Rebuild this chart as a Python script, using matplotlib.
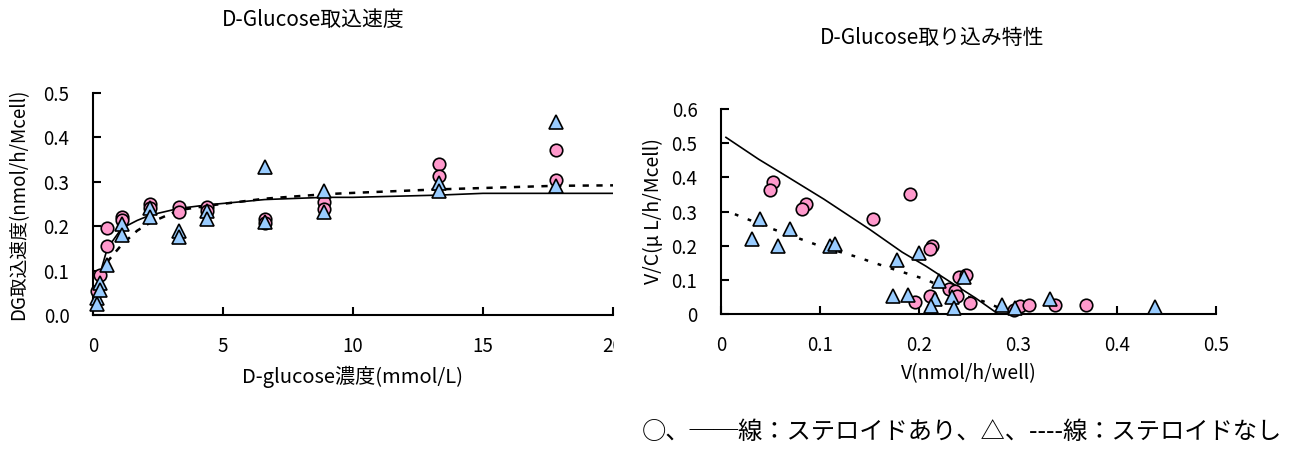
import numpy as np
import matplotlib
matplotlib.use('Agg')
import matplotlib.pyplot as plt
from matplotlib.transforms import Bbox, TransformedBbox

plt.rcParams['font.family'] = ['Noto Sans CJK JP', 'DejaVu Sans']

# --- left chart: uptake rate vs concentration ---
conc_c = [0.14, 0.28, 0.55, 0.55, 1.1, 1.1, 2.2, 2.2, 3.3, 3.3, 4.4, 4.4,
          6.6, 6.6, 8.9, 8.9, 13.3, 13.3, 17.8, 17.8]
rate_c = [0.053, 0.089, 0.196, 0.156, 0.220, 0.213, 0.250, 0.241, 0.243, 0.232,
          0.243, 0.235, 0.217, 0.207, 0.254, 0.239, 0.341, 0.312, 0.372, 0.303]
conc_t = [0.14, 0.14, 0.28, 0.28, 0.55, 1.1, 1.1, 2.2, 2.2, 3.3, 3.3, 4.4, 4.4,
          6.6, 6.6, 8.9, 8.9, 13.3, 13.3, 17.8, 17.8]
rate_t = [0.038, 0.025, 0.072, 0.057, 0.112, 0.205, 0.180, 0.241, 0.220, 0.190,
          0.175, 0.234, 0.217, 0.333, 0.209, 0.280, 0.232, 0.297, 0.280, 0.435, 0.290]
fit_x = [0.1, 0.28, 0.55, 1.1, 1.7, 2.2, 3.3, 4.4, 6.6, 8.9, 10.0, 13.3, 15.0, 17.8, 20.0]
fit_with = [0.050, 0.095, 0.150, 0.195, 0.213, 0.225, 0.240, 0.248, 0.260, 0.265,
            0.265, 0.270, 0.274, 0.274, 0.274]
fit_without = [0.030, 0.070, 0.120, 0.158, 0.190, 0.208, 0.236, 0.246, 0.262, 0.272,
               0.275, 0.283, 0.286, 0.291, 0.292]

# --- right chart: Eadie-Hofstee style plot ---
v_c = [0.053, 0.049, 0.086, 0.082, 0.154, 0.191, 0.213, 0.211, 0.240, 0.247,
       0.230, 0.236, 0.238, 0.211, 0.196, 0.252, 0.296, 0.302, 0.311, 0.337, 0.369]
vc_c = [0.387, 0.363, 0.321, 0.308, 0.279, 0.350, 0.199, 0.191, 0.109, 0.114,
        0.073, 0.067, 0.054, 0.054, 0.034, 0.032, 0.012, 0.022, 0.026, 0.026, 0.027]
v_t = [0.031, 0.039, 0.058, 0.070, 0.110, 0.115, 0.178, 0.200, 0.174, 0.189,
       0.220, 0.245, 0.216, 0.212, 0.233, 0.235, 0.284, 0.297, 0.332, 0.438]
vc_t = [0.220, 0.277, 0.200, 0.250, 0.200, 0.204, 0.157, 0.179, 0.052, 0.057,
        0.096, 0.109, 0.044, 0.024, 0.050, 0.018, 0.027, 0.018, 0.044, 0.021]
line_v_with = [0.005, 0.038, 0.063, 0.104, 0.150, 0.183, 0.207, 0.232, 0.257, 0.280]
line_vc_with = [0.517, 0.453, 0.409, 0.336, 0.248, 0.181, 0.140, 0.093, 0.047, 0.0]
line_v_without = [0.014, 0.051, 0.100, 0.135, 0.170, 0.207, 0.236, 0.265, 0.292]
line_vc_without = [0.292, 0.250, 0.199, 0.169, 0.135, 0.101, 0.062, 0.037, 0.005]

pink = '#FF99CC'
blue = '#99CCFF'
W, H = 1289, 461

fig = plt.figure(figsize=(W / 100, H / 100), dpi=100)

def px_axes(x0, x1, y_top, y_bot):
    return fig.add_axes([x0 / W, 1 - y_bot / H, (x1 - x0) / W, (y_bot - y_top) / H])

def style(ax):
    for s in ['top', 'right']:
        ax.spines[s].set_visible(False)
    for s in ['left', 'bottom']:
        ax.spines[s].set_linewidth(1.5)
    ax.tick_params(direction='in', length=6, width=1.5, labelsize=13.5)
    ax.tick_params(axis='y', pad=17)
    ax.tick_params(axis='x', pad=15)

# left
ax1 = px_axes(93, 613, 93, 315)
style(ax1)
ax1.plot(fit_x, fit_with, color='black', lw=1.2, zorder=2)
ax1.plot(fit_x, fit_without, color='black', lw=1.8, ls=(0, (2.5, 3)), zorder=2)
ax1.plot(conc_c, rate_c, 'o', ms=9, mfc=pink, mec='black', mew=1.2, clip_on=False, zorder=3)
ax1.plot(conc_t, rate_t, '^', ms=10, mfc=blue, mec='black', mew=1.2, clip_on=False, zorder=4)
ax1.set_xlim(0, 20)
ax1.set_ylim(0, 0.5)
ax1.set_xticks([0, 5, 10, 15, 20])
ax1.set_yticks([0, 0.1, 0.2, 0.3, 0.4, 0.5])
ax1.set_yticklabels(['0.0', '0.1', '0.2', '0.3', '0.4', '0.5'])
ax1.set_xlabel('D-glucose濃度(mmol/L)', fontsize=14.5, va='center')
ax1.xaxis.set_label_coords(0.5, -(377 - 315) / 222)
ax1.set_ylabel('DG取込速度(nmol/h/Mcell)', fontsize=13.5, va='center')
ax1.yaxis.set_label_coords(-(93 - 19) / 520, 0.5)
clip = TransformedBbox(Bbox([[0, 0], [614 / W, 1]]), fig.transFigure)
for t in ax1.get_xticklabels():
    t.set_clip_box(clip)
    t.set_clip_on(True)
fig.text(313 / W, 1 - 20 / H, 'D-Glucose取込速度', ha='center', va='center', fontsize=15)

# right
ax2 = px_axes(721, 1216, 109, 314)
style(ax2)
ax2.plot(line_v_with, line_vc_with, color='black', lw=1.2, zorder=2)
ax2.plot(line_v_without, line_vc_without, color='black', lw=1.8, ls=(0, (1.5, 4)), zorder=2)
ax2.plot(v_c, vc_c, 'o', ms=9, mfc=pink, mec='black', mew=1.2, clip_on=False, zorder=3)
ax2.plot(v_t, vc_t, '^', ms=10, mfc=blue, mec='black', mew=1.2, clip_on=False, zorder=4)
ax2.set_xlim(0, 0.5)
ax2.set_ylim(0, 0.6)
ax2.set_xticks([0, 0.1, 0.2, 0.3, 0.4, 0.5])
ax2.set_xticklabels(['0', '0.1', '0.2', '0.3', '0.4', '0.5'])
ax2.set_yticks([0, 0.1, 0.2, 0.3, 0.4, 0.5, 0.6])
ax2.set_yticklabels(['0', '0.1', '0.2', '0.3', '0.4', '0.5', '0.6'])
ax2.set_xlabel('V(nmol/h/well)', fontsize=14, va='center')
ax2.xaxis.set_label_coords(0.5, -(374 - 314) / 205)
ax2.set_ylabel('V/C(μ L/h/Mcell)', fontsize=14, va='center')
ax2.yaxis.set_label_coords(-(721 - 653) / 495, 0.5)
fig.text(932 / W, 1 - 38 / H, 'D-Glucose取り込み特性', ha='center', va='center', fontsize=15)

fig.text(642 / W, 1 - 432 / H, '○、──線：ステロイドあり、△、----線：ステロイドなし',
         ha='left', va='center', fontsize=17.5)

fig.savefig('out.png', dpi=100)
